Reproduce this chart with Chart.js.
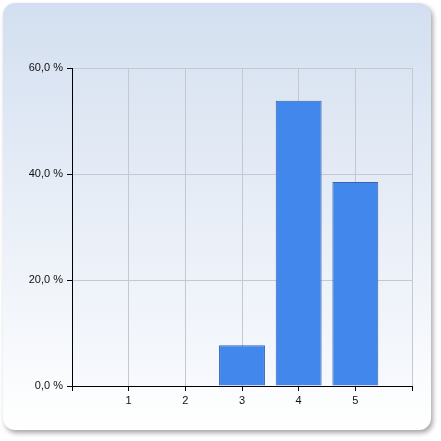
<!DOCTYPE html>
<html>
<head>
<meta charset="utf-8">
<script src="https://cdn.jsdelivr.net/npm/chart.js@4/dist/chart.umd.min.js"></script>
<style>
  html, body { margin: 0; padding: 0; background: #ffffff; }
  #wrap { width: 441px; height: 441px; position: relative; }
</style>
</head>
<body>
<div id="wrap"><canvas id="chart" width="441" height="441"></canvas></div>
<script>
// categories on the x axis (0 and 6 are empty end slots, label hidden)
const categories = ["0", "1", "2", "3", "4", "5", "6"];
const percentValues = [null, 0, 0, 7.7, 53.8, 38.5, null];
const yTicks = [0, 20, 40, 60];

// rounded card with a soft shadow and a blue-to-white gradient
const cardBackground = {
    id: "cardBackground",
    beforeDraw(chart) {
        const ctx = chart.ctx;
        const x = 3, y = 3, w = 428, h = 427, r = 12;
        ctx.save();
        ctx.shadowColor = "rgba(0,0,0,0.35)";
        ctx.shadowBlur = 5;
        ctx.shadowOffsetX = 2;
        ctx.shadowOffsetY = 3;
        const g = ctx.createLinearGradient(0, y, 0, y + h);
        g.addColorStop(0, "#d3dff0");
        g.addColorStop(1, "#ffffff");
        ctx.fillStyle = g;
        ctx.beginPath();
        ctx.roundRect(x, y, w, h, r);
        ctx.fill();
        ctx.restore();

        // plot area
        const a = chart.chartArea;
        ctx.save();
        const pg = ctx.createLinearGradient(0, a.top, 0, a.bottom);
        pg.addColorStop(0, "#dbe4f2");
        pg.addColorStop(1, "#f7f9fd");
        ctx.fillStyle = pg;
        ctx.fillRect(a.left, a.top, a.right - a.left, a.bottom - a.top);
        ctx.restore();
    }
};

const ctx = document.getElementById("chart").getContext("2d");

new Chart(ctx, {
    type: "bar",
    data: {
        labels: categories,
        datasets: [{
            data: percentValues,
            backgroundColor: "#4287ec",
            borderColor: "#3563ad",
            borderWidth: c => (c.raw ? 1 : 0),
            borderSkipped: "start",
            categoryPercentage: 1,
            barPercentage: 0.81
        }]
    },
    options: {
        responsive: false,
        animation: false,
        devicePixelRatio: 1,
        layout: { padding: { left: 0, top: 68, right: 29, bottom: 0 } },
        plugins: {
            legend: { display: false },
            tooltip: { enabled: false }
        },
        scales: {
            x: {
                offset: false,
                grid: {
                    offset: false,
                    color: "#c3c8d2",
                    tickColor: "#000000",
                    tickLength: 5,
                    drawOnChartArea: true
                },
                border: { color: "#000000", width: 1 },
                ticks: {
                    color: "#111111",
                    font: { family: "Liberation Sans, Arial", size: 11 },
                    padding: 3,
                    maxRotation: 0,
                    autoSkip: false,
                    callback: function (v, i) {
                        const l = categories[i];
                        return (l === "0" || l === "6") ? "" : l;
                    }
                },
                afterFit: s => { s.height = 55; }
            },
            y: {
                min: 0,
                max: 60,
                afterBuildTicks: s => { s.ticks = yTicks.map(v => ({ value: v })); },
                grid: {
                    color: "#c3c8d2",
                    tickColor: "#000000",
                    tickLength: 5
                },
                border: { color: "#000000", width: 1 },
                ticks: {
                    color: "#111111",
                    font: { family: "Liberation Sans, Arial", size: 11 },
                    padding: 4,
                    callback: v => v.toFixed(1).replace(".", ",") + " %"
                },
                afterFit: s => { s.width = 72; }
            }
        }
    },
    plugins: [cardBackground]
});
</script>
</body>
</html>
